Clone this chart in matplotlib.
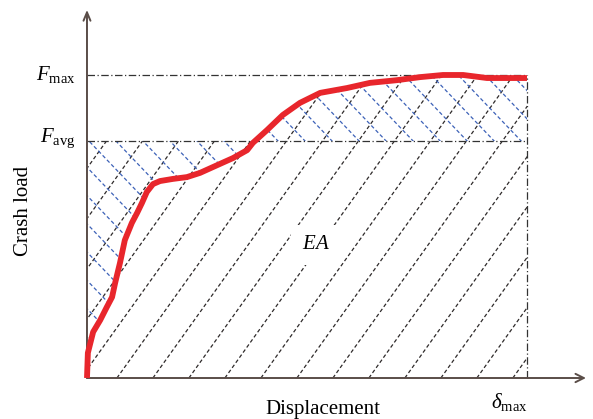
import numpy as np
import matplotlib.pyplot as plt
from matplotlib.path import Path
from matplotlib.patches import PathPatch
from matplotlib.collections import LineCollection

plt.rcParams['font.family'] = ['Liberation Serif', 'DejaVu Serif']
plt.rcParams['mathtext.fontset'] = 'custom'
plt.rcParams['mathtext.rm'] = 'Liberation Serif'
plt.rcParams['mathtext.it'] = 'Liberation Serif:italic'

# ===== data (displacement in % of delta_max, load in % of F_max) =====
disp = [0, 0.2, 1.4, 3.0, 4.5, 5.7, 6.4, 7.5, 8.6, 10.2, 11.4, 12.5, 13.6,
        15.0, 16.6, 19.5, 22.7, 25.7, 28.6, 33.2, 36.4, 37.7, 40.9, 44.5,
        48.4, 53.0, 59.1, 64.3, 70.5, 75.7, 80.9, 85.5, 89.3, 90.9, 100]
load = [0, 8.3, 15.2, 19.1, 23.4, 26.7, 31.4, 38.0, 45.5, 51.2, 54.5, 57.8,
        61.4, 64.0, 65.0, 65.7, 66.3, 67.7, 69.6, 72.6, 75.2, 77.6, 81.8,
        86.8, 90.8, 94.1, 95.7, 97.4, 98.3, 99.3, 100, 100, 99.3, 99.0, 99.0]
F_MAX = 100
F_AVG = 78.2
D_MAX = 100

disp = np.array(disp)
load = np.array(load)

fig = plt.figure(figsize=(5.93, 4.19), dpi=100)
ax = fig.add_axes([0, 0, 1, 1])
ax.set_xlim(-19.77, 115.0)
ax.set_ylim(-13.53, 124.75)
ax.axis('off')

# ----- clip regions -----
xf = np.linspace(0, D_MAX, 600)
yf = np.interp(xf, disp, load)
top = np.maximum(yf, F_AVG)
verts = [(0, 0)] + list(zip(xf, top)) + [(D_MAX, 0), (0, 0)]
black_clip = PathPatch(Path(verts), transform=ax.transData, fc='none', ec='none')
ax.add_patch(black_clip)

diff = ax.fill_between(disp, load, F_AVG, interpolate=True, color='none', lw=0)
blue_path = Path.make_compound_path(*diff.get_paths())
blue_clip = PathPatch(blue_path, transform=ax.transData, fc='none', ec='none')
ax.add_patch(blue_clip)

# ----- hatch lines -----
k = np.arange(-20, 25)
slope_b = 2.03
x0 = 6.8 + 8.18 * k
segs = [[(a, 0), (a + 130 / slope_b, 130)] for a in x0]
lc = LineCollection(segs, colors='#2e2a2a', linewidths=0.9, linestyles=(0, (3, 2)))
ax.add_collection(lc)
lc.set_clip_path(black_clip)

slope_u = 1.52
x1 = 6.59 + 6.14 * k
segs = [[(a - 90 / slope_u, F_AVG + 90), (a + 90 / slope_u, F_AVG - 90)] for a in x1]
lc2 = LineCollection(segs, colors='#3d62b8', linewidths=0.9, linestyles=(0, (3, 2)))
ax.add_collection(lc2)
lc2.set_clip_path(blue_clip)

# ----- reference lines -----
dd = (0, (6, 2, 1, 2))
ax.plot([0, D_MAX], [F_MAX, F_MAX], color='#333333', lw=0.9, ls=dd)
ax.plot([0, D_MAX], [F_AVG, F_AVG], color='#333333', lw=0.9, ls=dd)
ax.plot([D_MAX, D_MAX], [0, F_MAX], color='#333333', lw=0.9, ls=dd)

# ----- curve -----
ax.plot(disp, load, color='#e8262c', lw=4.2, solid_capstyle='butt',
        solid_joinstyle='round', zorder=5)

# ----- axes with arrows -----
ac = '#5a4d48'
ax.annotate('', xy=(113.4, 0), xytext=(0, 0),
            arrowprops=dict(arrowstyle='->,head_length=0.6,head_width=0.3',
                            color=ac, lw=1.4, shrinkA=0, shrinkB=0))
ax.annotate('', xy=(0, 121.5), xytext=(0, 0),
            arrowprops=dict(arrowstyle='->,head_length=0.6,head_width=0.25',
                            color=ac, lw=1.4, shrinkA=0, shrinkB=0))

# ----- labels -----
ax.text(-2.5, F_MAX, r'$F_{\mathrm{max}}$', fontsize=15, ha='right', va='center')
ax.text(-2.5, F_AVG + 1, r'$F_{\mathrm{avg}}$', fontsize=15, ha='right', va='center')
ax.text(D_MAX - 4, -8.0, r'$\delta_{\mathrm{max}}$', fontsize=15, ha='center', va='center')
ax.text(52, 44, r'$EA$', fontsize=15, ha='center', va='center', zorder=4,
        bbox=dict(boxstyle='square,pad=0.5', fc='white', ec='none'))
ax.text(-14.5, 55, 'Crash load', fontsize=15, rotation=90, ha='center', va='center')
ax.text(53.6, -11.9, 'Displacement', fontsize=15, ha='center', va='baseline')

plt.savefig('out.png', dpi=100)
